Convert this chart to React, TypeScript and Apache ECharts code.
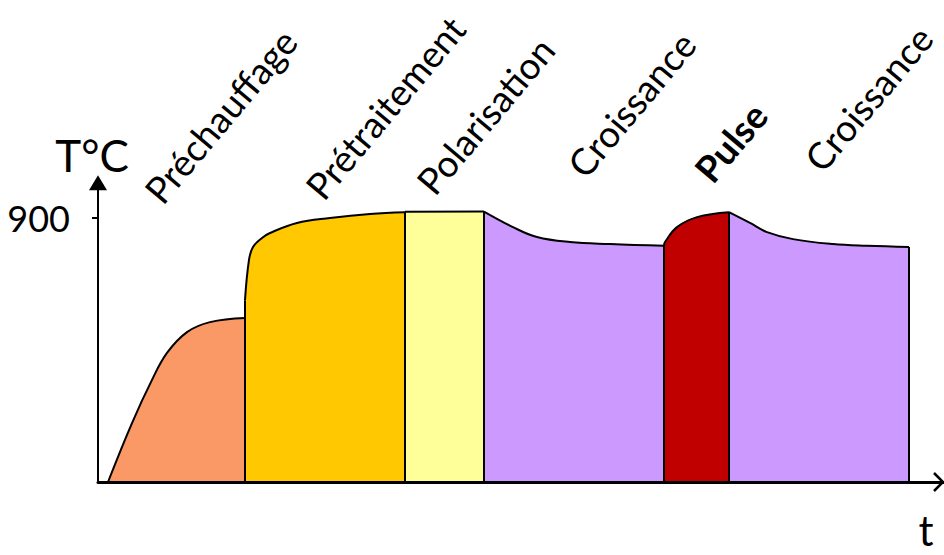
import React, { useEffect, useRef } from "react";
import * as echarts from "echarts";

// Phase names (labels above the curve)
const phaseNames = ["Préchauffage", "Prétraitement", "Polarisation", "Croissance", "Pulse", "Croissance"];
const phaseColors = ["#FA9866", "#FFC800", "#FFFF99", "#CC99FF", "#C00000", "#CC99FF"];
const phaseBold = [false, false, false, false, true, false];

// time (arbitrary units) / temperature (°C) for each phase
const prechauffageTime = [10, 34, 54, 69, 89, 112, 147];
const prechauffageTemp = [0, 201, 348, 440, 511, 545, 559];
const pretraitementTime = [147, 151, 155, 164, 172, 199, 232, 272, 307];
const pretraitementTemp = [620, 757, 801, 832, 849, 883, 900, 914, 920];
const polarisationTime = [307, 386];
const polarisationTemp = [921, 922];
const croissance1Time = [386, 415, 439, 472, 512, 566];
const croissance1Temp = [922, 869, 835, 818, 811, 805];
const pulseTime = [566, 567, 579, 599, 631];
const pulseTemp = [805, 818, 869, 903, 920];
const croissance2Time = [631, 652, 669, 695, 735, 769, 811];
const croissance2Temp = [920, 883, 852, 828, 811, 805, 801];

const phaseTimes = [prechauffageTime, pretraitementTime, polarisationTime, croissance1Time, pulseTime, croissance2Time];
const phaseTemps = [prechauffageTemp, pretraitementTemp, polarisationTemp, croissance1Temp, pulseTemp, croissance2Temp];

// y-axis tick labels
const tempTicks = [900];

export default function App() {
  const ref = useRef<HTMLDivElement>(null);
  useEffect(() => {
    if (!ref.current) return;
    const chart = echarts.init(ref.current, null, { renderer: "svg" });

    const areaSeries: any[] = phaseTimes.map((ts, i) => ({
      type: "line",
      name: phaseNames[i],
      data: ts.map((t, j) => [t, phaseTemps[i][j]]),
      smooth: 0.4,
      symbol: "none",
      lineStyle: { color: "#000", width: 2 },
      areaStyle: { color: phaseColors[i], opacity: 1 },
      silent: true,
      z: 2,
    }));

    // vertical boundaries of each phase
    const edgeSeries: any[] = [];
    phaseTimes.forEach((ts, i) => {
      const temps = phaseTemps[i];
      const lastT = ts[ts.length - 1];
      const lastV = temps[temps.length - 1];
      const nextStart = i + 1 < phaseTimes.length ? phaseTemps[i + 1][0] : lastV;
      edgeSeries.push({
        type: "line",
        data: [[lastT, 0], [lastT, Math.max(lastV, nextStart)]],
        symbol: "none",
        lineStyle: { color: "#000", width: 2 },
        silent: true,
        z: 3,
      });
    });

    const labelFont = "Lato";
    const rot = (50 * Math.PI) / 180;
    const labelAnchors = [
      [166, 209],
      [327, 205],
      [438, 200],
      [589, 183],
      [716, 188],
      [826, 177],
    ];

    chart.setOption({
      animation: false,
      grid: { left: 98, right: 0, top: 182.8, bottom: 73 },
      xAxis: {
        type: "value",
        min: 0,
        max: 846,
        axisLine: { show: true, lineStyle: { color: "#000", width: 3 } },
        axisTick: { show: false },
        axisLabel: { show: false },
        splitLine: { show: false },
        z: 10,
      },
      yAxis: {
        type: "value",
        min: 0,
        max: 1020,
        name: "T°C",
        nameLocation: "end",
        nameGap: 6,
        nameTextStyle: {
          fontFamily: labelFont,
          fontSize: 44,
          color: "#000",
          align: "center",
          verticalAlign: "bottom",
          padding: [0, 12, 0, 0],
        },
        axisLine: {
          show: true,
          symbol: ["none", "triangle"],
          symbolSize: [18, 15],
          lineStyle: { color: "#000", width: 2 },
        },
        axisTick: { show: true, customValues: tempTicks, length: 6, lineStyle: { color: "#000", width: 2 } },
        axisLabel: {
          customValues: tempTicks,
          margin: 28,
          fontFamily: labelFont,
          fontSize: 36,
          color: "#000",
        },
        splitLine: { show: false },
        z: 10,
      },
      series: [...areaSeries, ...edgeSeries],
      graphic: [
        ...phaseNames.map((n, i) => ({
          type: "text",
          x: labelAnchors[i][0],
          y: labelAnchors[i][1],
          rotation: rot,
          style: {
            text: n,
            fontFamily: labelFont,
            fontSize: 37,
            fontWeight: phaseBold[i] ? "bold" : "normal",
            fill: "#000",
            align: "left",
            verticalAlign: "bottom",
          },
        })),
        {
          type: "text",
          x: 926,
          y: 551,
          style: { text: "t", fontFamily: labelFont, fontSize: 42, fill: "#000", align: "center", verticalAlign: "bottom" },
        },
        {
          type: "polyline",
          shape: { points: [[934, 473], [943, 482], [934, 491]] },
          style: { stroke: "#000", lineWidth: 2.5, fill: "none" },
        },
      ],
    });
    return () => chart.dispose();
  }, []);
  return <div ref={ref} style={{ position: "absolute", left: 0, top: 0, width: 944, height: 555 }} />;
}
